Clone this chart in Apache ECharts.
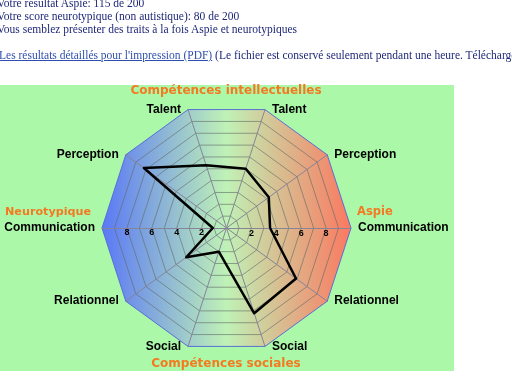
<!DOCTYPE html>
<html>
<head>
<meta charset="utf-8">
<script src="https://cdn.jsdelivr.net/npm/echarts@6/dist/echarts.min.js"></script>
<style>
  html, body { margin:0; padding:0; width:512px; height:380px; overflow:hidden; background:#fff; }
  #chart { position:absolute; left:0; top:0; width:512px; height:380px; }
  .hl { position:absolute; white-space:nowrap; font-family:"Liberation Serif", serif; font-size:11.5px; color:#1f2878; line-height:14px; z-index:2; }
  .hl a { color:#2f4fae; text-decoration:underline; }
</style>
</head>
<body>
<div id="chart"></div>
<div class="hl" style="left:-3px; top:-4px;">Votre résultat Aspie: 115 de 200</div>
<div class="hl" style="left:-3px; top:9px;">Votre score neurotypique (non autistique): 80 de 200</div>
<div class="hl" style="left:-3px; top:22px;">Vous semblez présenter des traits à la fois Aspie et neurotypiques</div>
<div class="hl" style="left:-1px; top:48px;"><a>Les résultats détaillés pour l'impression (PDF)</a> (Le fichier est conservé seulement pendant une heure. Téléchargez-le)</div>
<script>
// ---- data ----
const axisNames = ['Communication', 'Perception', 'Talent', 'Talent', 'Perception',
                   'Communication', 'Relationnel', 'Social', 'Social', 'Relationnel'];
const scores = [3.5, 4.2, 5.0, 5.3, 8.2, 1.1, 4.0, 2.0, 7.2, 6.9];
const axisMax = 10;
const tickLabelValues = [2, 4, 6, 8];
const labelledAxes = [0, 5];
const groupTitles = ['Compétences intellectuelles', 'Neurotypique', 'Aspie', 'Compétences sociales'];

const chart = echarts.init(document.getElementById('chart'), null, { renderer: 'canvas' });

const ringColors = [];
for (let i = 0; i <= axisMax; i++) ringColors.push(i === axisMax ? '#5a6ed6' : 'rgba(95,105,100,0.6)');

const grad = {
  type: 'linear', x: 102, y: 0, x2: 351, y2: 0, global: true,
  colorStops: [
    { offset: 0, color: '#5a78f6' },
    { offset: 0.5, color: '#bff2b6' },
    { offset: 1, color: '#fb7860' }
  ]
};

const indicator = axisNames.map((n, i) => {
  const o = { name: n, min: 0, max: axisMax };
  if (labelledAxes.includes(i)) {
    o.axisLabel = {
      show: true,
      color: '#000',
      fontFamily: 'Liberation Sans',
      fontWeight: 'bold',
      fontSize: 9,
      margin: i === 0 ? -10 : 0,
      formatter: v => tickLabelValues.includes(v) ? String(v) : ''
    };
  }
  return o;
});

const orange = '#f47a22';
const titleFont = 'bold 12px "DejaVu Sans"';

chart.setOption({
  animation: false,
  graphic: [
    { type: 'rect', z: -10, shape: { x: 0, y: 85, width: 454, height: 286 }, style: { fill: '#abf8a9' } },
    { type: 'text', z: 10, style: { text: groupTitles[0], x: 226, y: 91, align: 'center', verticalAlign: 'middle', font: titleFont, fill: orange } },
    { type: 'text', z: 10, style: { text: groupTitles[1], x: 5, y: 212, align: 'left', verticalAlign: 'middle', font: 'bold 11.2px "DejaVu Sans"', fill: orange } },
    { type: 'text', z: 10, style: { text: groupTitles[2], x: 357, y: 212, align: 'left', verticalAlign: 'middle', font: 'bold 11.5px "DejaVu Sans"', fill: orange } },
    { type: 'text', z: 10, style: { text: groupTitles[3], x: 226, y: 364, align: 'center', verticalAlign: 'middle', font: titleFont, fill: orange } }
  ],
  radar: {
    center: [226.5, 228],
    radius: 124.5,
    startAngle: 0,
    splitNumber: 10,
    shape: 'polygon',
    axisNameGap: 0,
    axisName: { color: '#000', fontFamily: 'Liberation Sans', fontWeight: 'bold', fontSize: 12, padding: [0, 7] },
    axisLine: { lineStyle: { color: '#858597', width: 1 } },
    axisTick: { show: false },
    axisLabel: { show: false },
    splitLine: { lineStyle: { color: ringColors, width: 1 } },
    splitArea: { show: true, areaStyle: { color: [grad] } },
    indicator: indicator
  },
  series: [{
    type: 'radar',
    symbol: 'none',
    silent: true,
    lineStyle: { color: '#000', width: 2.5 },
    data: [{ value: scores }]
  }]
});
</script>
</body>
</html>
